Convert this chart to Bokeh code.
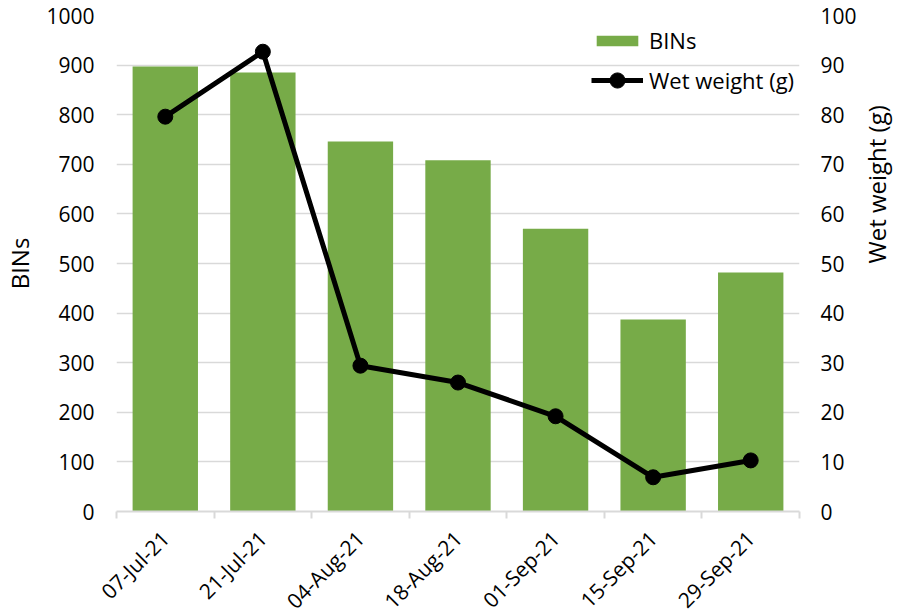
import math
from bokeh.plotting import figure
from bokeh.models import Range1d, LinearAxis, FixedTicker, Legend, LegendItem
from bokeh.embed import file_html
from bokeh.resources import INLINE

dates = ["07-Jul-21", "21-Jul-21", "04-Aug-21", "18-Aug-21", "01-Sep-21", "15-Sep-21", "29-Sep-21"]
bins = [897, 885, 746, 708, 570, 387, 482]
wet_weight = [79.6, 92.7, 29.4, 26.0, 19.2, 6.9, 10.3]
bins_ticks = [0, 100, 200, 300, 400, 500, 600, 700, 800, 900, 1000]
wet_ticks = [0, 10, 20, 30, 40, 50, 60, 70, 80, 90, 100]

FONT = "Open Sans"
GREEN = "#77AB48"
GRID = "#d9d9d9"
FW, FH = 683, 496

n = len(dates)
xs = [i + 0.5 for i in range(n)]

p = figure(frame_width=FW, frame_height=FH, output_backend="svg", toolbar_location=None,
           x_range=Range1d(0, n), y_range=Range1d(0, 1000),
           min_border_left=110, min_border_right=94, min_border_top=15, min_border_bottom=96)
p.outline_line_color = None
p.extra_y_ranges = {"w": Range1d(0, 100)}

bars = p.vbar(x=xs, top=bins, width=0.67, fill_color=GREEN, line_color=None)
ln = p.line(x=xs, y=wet_weight, line_color="black", line_width=5, y_range_name="w")
pts = p.scatter(x=xs, y=wet_weight, size=15, fill_color="black", line_color="black", y_range_name="w")

# x axis
xa = p.xaxis[0]
xa.ticker = FixedTicker(ticks=xs, minor_ticks=list(range(n + 1)))
xa.major_label_overrides = {x: d for x, d in zip(xs, dates)}
xa.major_label_orientation = math.pi / 4
xa.major_tick_line_color = None
xa.major_tick_out = 0
xa.major_tick_in = 0
xa.minor_tick_line_color = GRID
xa.minor_tick_line_width = 2
xa.minor_tick_out = 7
xa.minor_tick_in = 0
xa.axis_line_color = GRID
xa.axis_line_width = 2
xa.major_label_text_font = FONT
xa.major_label_text_font_size = "21px"
xa.major_label_text_color = "black"
xa.major_label_standoff = 16

def style_y(a, standoff, title_standoff):
    a.axis_line_color = None
    a.major_tick_line_color = None
    a.minor_tick_line_color = None
    a.major_tick_out = 0
    a.major_tick_in = 0
    a.major_label_standoff = standoff
    a.axis_label_standoff = title_standoff
    a.major_label_text_font = FONT
    a.major_label_text_font_size = "21px"
    a.major_label_text_color = "black"
    a.axis_label_text_font = FONT
    a.axis_label_text_font_size = "24px"
    a.axis_label_text_font_style = "normal"
    a.axis_label_text_color = "black"

ya = p.yaxis[0]
ya.ticker = FixedTicker(ticks=bins_ticks)
ya.axis_label = "BINs"
style_y(ya, 22, 7)

ra = LinearAxis(y_range_name="w", ticker=FixedTicker(ticks=wet_ticks), axis_label="Wet weight (g)")
style_y(ra, 21, 17)
ra.axis_label_orientation = math.pi / 2
ra.axis_label_text_baseline = "top"
p.add_layout(ra, "right")

p.xgrid.grid_line_color = None
p.ygrid.grid_line_color = GRID
p.ygrid.grid_line_width = 1.5
p.ygrid.ticker = FixedTicker(ticks=bins_ticks)

def make_legend(item, gh, y):
    lg = Legend(items=[item], location=(475, y))
    lg.background_fill_alpha = 0
    lg.border_line_color = None
    lg.padding = 0
    lg.margin = 0
    lg.spacing = 0
    lg.glyph_width = 52
    lg.glyph_height = gh
    lg.label_height = gh
    lg.label_standoff = 6
    lg.label_text_font = FONT
    lg.label_text_font_size = "22px"
    lg.label_text_color = "black"
    lg.label_text_baseline = "middle"
    return lg

leg1 = make_legend(LegendItem(label="BINs", renderers=[bars]), 13, FH - 40)
leg2 = make_legend(LegendItem(label="Wet weight (g)", renderers=[ln, pts]), 38, FH - 84)
p.add_layout(leg1, "center")
p.add_layout(leg2, "center")

open("out.html", "w").write(file_html(p, INLINE))
